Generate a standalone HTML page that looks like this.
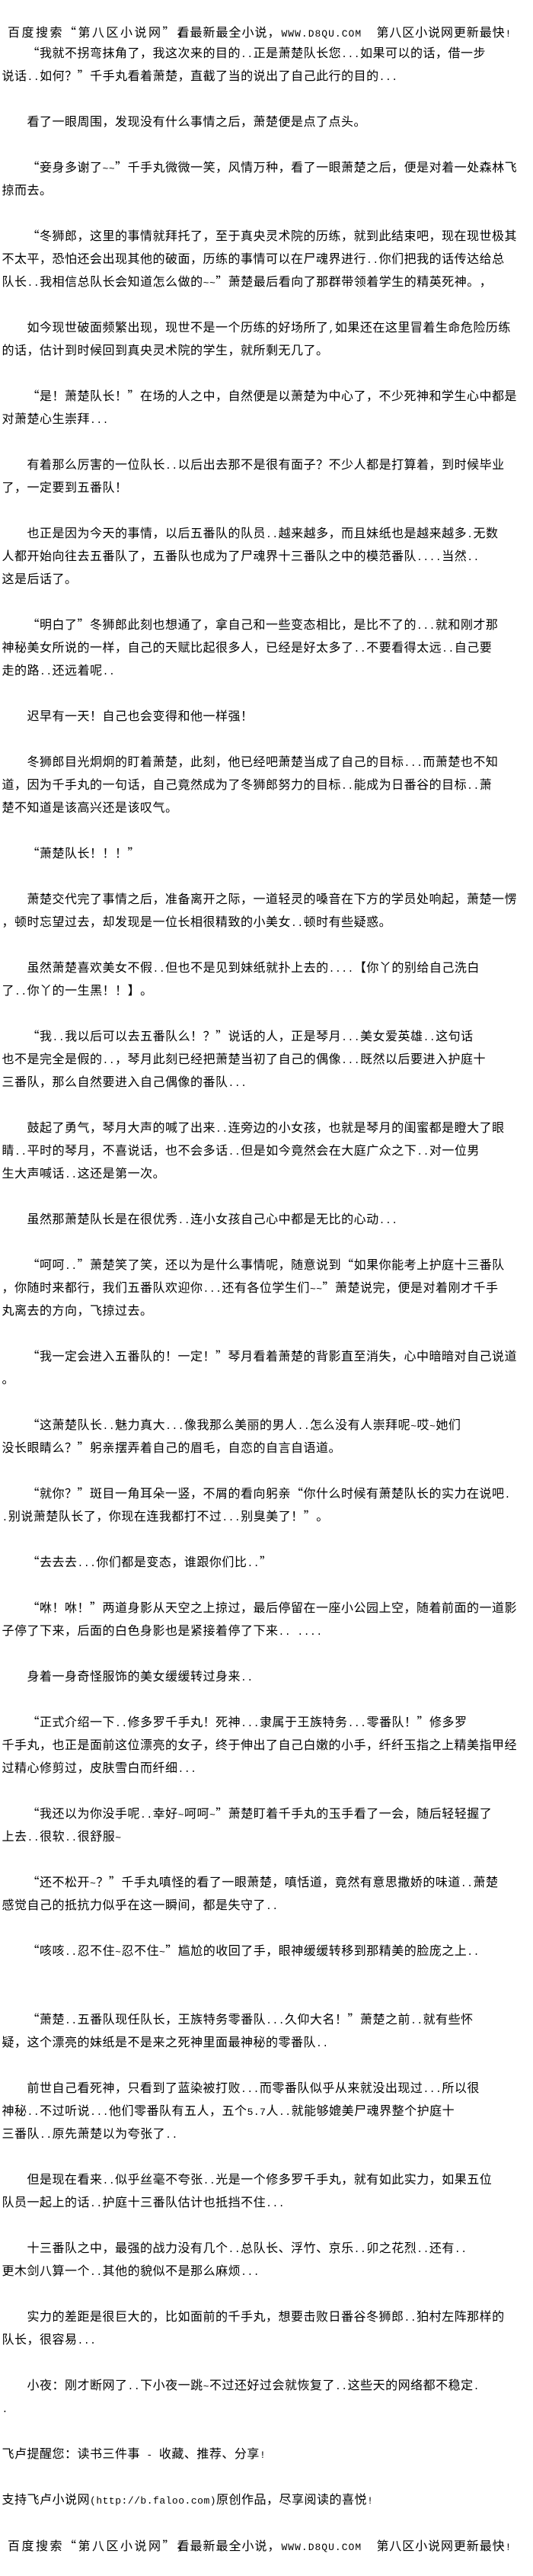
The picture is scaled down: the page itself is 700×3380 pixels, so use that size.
<!DOCTYPE html>
<html>
<head>
<meta charset="utf-8">
<style>
html,body{margin:0;padding:0;background:#fff;}
body{width:700px;height:3380px;overflow:hidden;position:relative;}
.c{position:absolute;left:0;top:0;width:700px;padding-top:23px;padding-left:2.5px;
  font-family:"Noto Sans CJK SC","Liberation Sans",sans-serif;font-size:16px;letter-spacing:0.5px;
  line-height:30px;color:#000;text-spacing-trim:space-all;font-kerning:none;}
.r{height:30px;white-space:nowrap;}
.i{padding-left:33px;}
b{font-weight:normal;font-family:"Liberation Mono",monospace;font-size:13px;}
.h{position:relative;top:3px;}
.h span{position:absolute;top:0;white-space:nowrap;}
</style>
</head>
<body>
<div class="c">
<div class="r h"><span style="left:7.5px;letter-spacing:2.5px">百度搜索“第八区小说网”，</span><span style="left:230px;letter-spacing:1px">看最新最全小说，</span><span style="left:367px"><b style="letter-spacing:1px">WWW.D8QU.COM</b></span><span style="left:492px;letter-spacing:0.9px">第八区小说网更新最快<b>!</b></span></div>
<div class="r i">“我就不拐弯抹角了，我这次来的目的<b>..</b>正是萧楚队长您<b>...</b>如果可以的话，借一步</div>
<div class="r">说话<b>..</b>如何？”千手丸看着萧楚，直截了当的说出了自己此行的目的<b>...</b></div>
<div class="r"></div>
<div class="r i">看了一眼周围，发现没有什么事情之后，萧楚便是点了点头。</div>
<div class="r"></div>
<div class="r i">“妾身多谢了<b>~~</b>”千手丸微微一笑，风情万种，看了一眼萧楚之后，便是对着一处森林飞</div>
<div class="r">掠而去。</div>
<div class="r"></div>
<div class="r i">“冬狮郎，这里的事情就拜托了，至于真央灵术院的历练，就到此结束吧，现在现世极其</div>
<div class="r">不太平，恐怕还会出现其他的破面，历练的事情可以在尸魂界进行<b>..</b>你们把我的话传达给总</div>
<div class="r">队长<b>..</b>我相信总队长会知道怎么做的<b>~~</b>”萧楚最后看向了那群带领着学生的精英死神。，</div>
<div class="r"></div>
<div class="r i">如今现世破面频繁出现，现世不是一个历练的好场所了<b>,</b>如果还在这里冒着生命危险历练</div>
<div class="r">的话，估计到时候回到真央灵术院的学生，就所剩无几了。</div>
<div class="r"></div>
<div class="r i">“是！萧楚队长！”在场的人之中，自然便是以萧楚为中心了，不少死神和学生心中都是</div>
<div class="r">对萧楚心生崇拜<b>...</b></div>
<div class="r"></div>
<div class="r i">有着那么厉害的一位队长<b>..</b>以后出去那不是很有面子？不少人都是打算着，到时候毕业</div>
<div class="r">了，一定要到五番队！</div>
<div class="r"></div>
<div class="r i">也正是因为今天的事情，以后五番队的队员<b>..</b>越来越多，而且妹纸也是越来越多<b>.</b>无数</div>
<div class="r">人都开始向往去五番队了，五番队也成为了尸魂界十三番队之中的模范番队<b>....</b>当然<b>..</b></div>
<div class="r">这是后话了。</div>
<div class="r"></div>
<div class="r i">“明白了”冬狮郎此刻也想通了，拿自己和一些变态相比，是比不了的<b>...</b>就和刚才那</div>
<div class="r">神秘美女所说的一样，自己的天赋比起很多人，已经是好太多了<b>..</b>不要看得太远<b>..</b>自己要</div>
<div class="r">走的路<b>..</b>还远着呢<b>..</b></div>
<div class="r"></div>
<div class="r i">迟早有一天！自己也会变得和他一样强！</div>
<div class="r"></div>
<div class="r i">冬狮郎目光炯炯的盯着萧楚，此刻，他已经吧萧楚当成了自己的目标<b>...</b>而萧楚也不知</div>
<div class="r">道，因为千手丸的一句话，自己竟然成为了冬狮郎努力的目标<b>..</b>能成为日番谷的目标<b>..</b>萧</div>
<div class="r">楚不知道是该高兴还是该叹气。</div>
<div class="r"></div>
<div class="r i">“萧楚队长！！！”</div>
<div class="r"></div>
<div class="r i">萧楚交代完了事情之后，准备离开之际，一道轻灵的嗓音在下方的学员处响起，萧楚一愣</div>
<div class="r">，顿时忘望过去，却发现是一位长相很精致的小美女<b>..</b>顿时有些疑惑。</div>
<div class="r"></div>
<div class="r i">虽然萧楚喜欢美女不假<b>..</b>但也不是见到妹纸就扑上去的<b>....</b>【你丫的别给自己洗白</div>
<div class="r">了<b>..</b>你丫的一生黑！！】。</div>
<div class="r"></div>
<div class="r i">“我<b>..</b>我以后可以去五番队么！？”说话的人，正是琴月<b>...</b>美女爱英雄<b>..</b>这句话</div>
<div class="r">也不是完全是假的<b>..</b>，琴月此刻已经把萧楚当初了自己的偶像<b>...</b>既然以后要进入护庭十</div>
<div class="r">三番队，那么自然要进入自己偶像的番队<b>...</b></div>
<div class="r"></div>
<div class="r i">鼓起了勇气，琴月大声的喊了出来<b>..</b>连旁边的小女孩，也就是琴月的闺蜜都是瞪大了眼</div>
<div class="r">睛<b>..</b>平时的琴月，不喜说话，也不会多话<b>..</b>但是如今竟然会在大庭广众之下<b>..</b>对一位男</div>
<div class="r">生大声喊话<b>..</b>这还是第一次。</div>
<div class="r"></div>
<div class="r i">虽然那萧楚队长是在很优秀<b>..</b>连小女孩自己心中都是无比的心动<b>...</b></div>
<div class="r"></div>
<div class="r i">“呵呵<b>..</b>”萧楚笑了笑，还以为是什么事情呢，随意说到“如果你能考上护庭十三番队</div>
<div class="r">，你随时来都行，我们五番队欢迎你<b>...</b>还有各位学生们<b>~~</b>”萧楚说完，便是对着刚才千手</div>
<div class="r">丸离去的方向，飞掠过去。</div>
<div class="r"></div>
<div class="r i">“我一定会进入五番队的！一定！”琴月看着萧楚的背影直至消失，心中暗暗对自己说道</div>
<div class="r">。</div>
<div class="r"></div>
<div class="r i">“这萧楚队长<b>..</b>魅力真大<b>...</b>像我那么美丽的男人<b>..</b>怎么没有人崇拜呢<b>~</b>哎<b>~</b>她们</div>
<div class="r">没长眼睛么？”躬亲摆弄着自己的眉毛，自恋的自言自语道。</div>
<div class="r"></div>
<div class="r i">“就你？”斑目一角耳朵一竖，不屑的看向躬亲“你什么时候有萧楚队长的实力在说吧<b>.</b></div>
<div class="r"><b>.</b>别说萧楚队长了，你现在连我都打不过<b>...</b>别臭美了！”。</div>
<div class="r"></div>
<div class="r i">“去去去<b>...</b>你们都是变态，谁跟你们比<b>..</b>”</div>
<div class="r"></div>
<div class="r i">“咻！咻！”两道身影从天空之上掠过，最后停留在一座小公园上空，随着前面的一道影</div>
<div class="r">子停了下来，后面的白色身影也是紧接着停了下来<b>.. ....</b></div>
<div class="r"></div>
<div class="r i">身着一身奇怪服饰的美女缓缓转过身来<b>..</b></div>
<div class="r"></div>
<div class="r i">“正式介绍一下<b>..</b>修多罗千手丸！死神<b>...</b>隶属于王族特务<b>...</b>零番队！”修多罗</div>
<div class="r">千手丸，也正是面前这位漂亮的女子，终于伸出了自己白嫩的小手，纤纤玉指之上精美指甲经</div>
<div class="r">过精心修剪过，皮肤雪白而纤细<b>...</b></div>
<div class="r"></div>
<div class="r i">“我还以为你没手呢<b>..</b>幸好<b>~</b>呵呵<b>~</b>”萧楚盯着千手丸的玉手看了一会，随后轻轻握了</div>
<div class="r">上去<b>..</b>很软<b>..</b>很舒服<b>~</b></div>
<div class="r"></div>
<div class="r i">“还不松开<b>~</b>？”千手丸嗔怪的看了一眼萧楚，嗔恬道，竟然有意思撒娇的味道<b>..</b>萧楚</div>
<div class="r">感觉自己的抵抗力似乎在这一瞬间，都是失守了<b>..</b></div>
<div class="r"></div>
<div class="r i">“咳咳<b>..</b>忍不住<b>~</b>忍不住<b>~</b>”尴尬的收回了手，眼神缓缓转移到那精美的脸庞之上<b>..</b></div>
<div class="r"></div>
<div class="r"></div>
<div class="r i">“萧楚<b>..</b>五番队现任队长，王族特务零番队<b>...</b>久仰大名！”萧楚之前<b>..</b>就有些怀</div>
<div class="r">疑，这个漂亮的妹纸是不是来之死神里面最神秘的零番队<b>..</b></div>
<div class="r"></div>
<div class="r i">前世自己看死神，只看到了蓝染被打败<b>...</b>而零番队似乎从来就没出现过<b>...</b>所以很</div>
<div class="r">神秘<b>..</b>不过听说<b>...</b>他们零番队有五人，五个<b>5.7</b>人<b>..</b>就能够媲美尸魂界整个护庭十</div>
<div class="r">三番队<b>..</b>原先萧楚以为夸张了<b>..</b></div>
<div class="r"></div>
<div class="r i">但是现在看来<b>..</b>似乎丝毫不夸张<b>..</b>光是一个修多罗千手丸，就有如此实力，如果五位</div>
<div class="r">队员一起上的话<b>..</b>护庭十三番队估计也抵挡不住<b>...</b></div>
<div class="r"></div>
<div class="r i">十三番队之中，最强的战力没有几个<b>..</b>总队长、浮竹、京乐<b>..</b>卯之花烈<b>..</b>还有<b>..</b></div>
<div class="r">更木剑八算一个<b>..</b>其他的貌似不是那么麻烦<b>...</b></div>
<div class="r"></div>
<div class="r i">实力的差距是很巨大的，比如面前的千手丸，想要击败日番谷冬狮郎<b>..</b>狛村左阵那样的</div>
<div class="r">队长，很容易<b>...</b></div>
<div class="r"></div>
<div class="r i">小夜：刚才断网了<b>..</b>下小夜一跳<b>~</b>不过还好过会就恢复了<b>..</b>这些天的网络都不稳定<b>.</b></div>
<div class="r"><b>.</b></div>
<div class="r"></div>
<div class="r">飞卢提醒您：读书三件事<b> - </b>收藏、推荐、分享<b>!</b></div>
<div class="r"></div>
<div class="r">支持飞卢小说网<b>(http://b.faloo.com)</b>原创作品，尽享阅读的喜悦<b>!</b></div>
<div class="r"></div>
<div class="r h" style="top:1px"><span style="left:7.5px;letter-spacing:2.5px">百度搜索“第八区小说网”，</span><span style="left:230px;letter-spacing:1px">看最新最全小说，</span><span style="left:367px"><b style="letter-spacing:1px">WWW.D8QU.COM</b></span><span style="left:492px;letter-spacing:0.9px">第八区小说网更新最快<b>!</b></span></div>
</div>
</body>
</html>
